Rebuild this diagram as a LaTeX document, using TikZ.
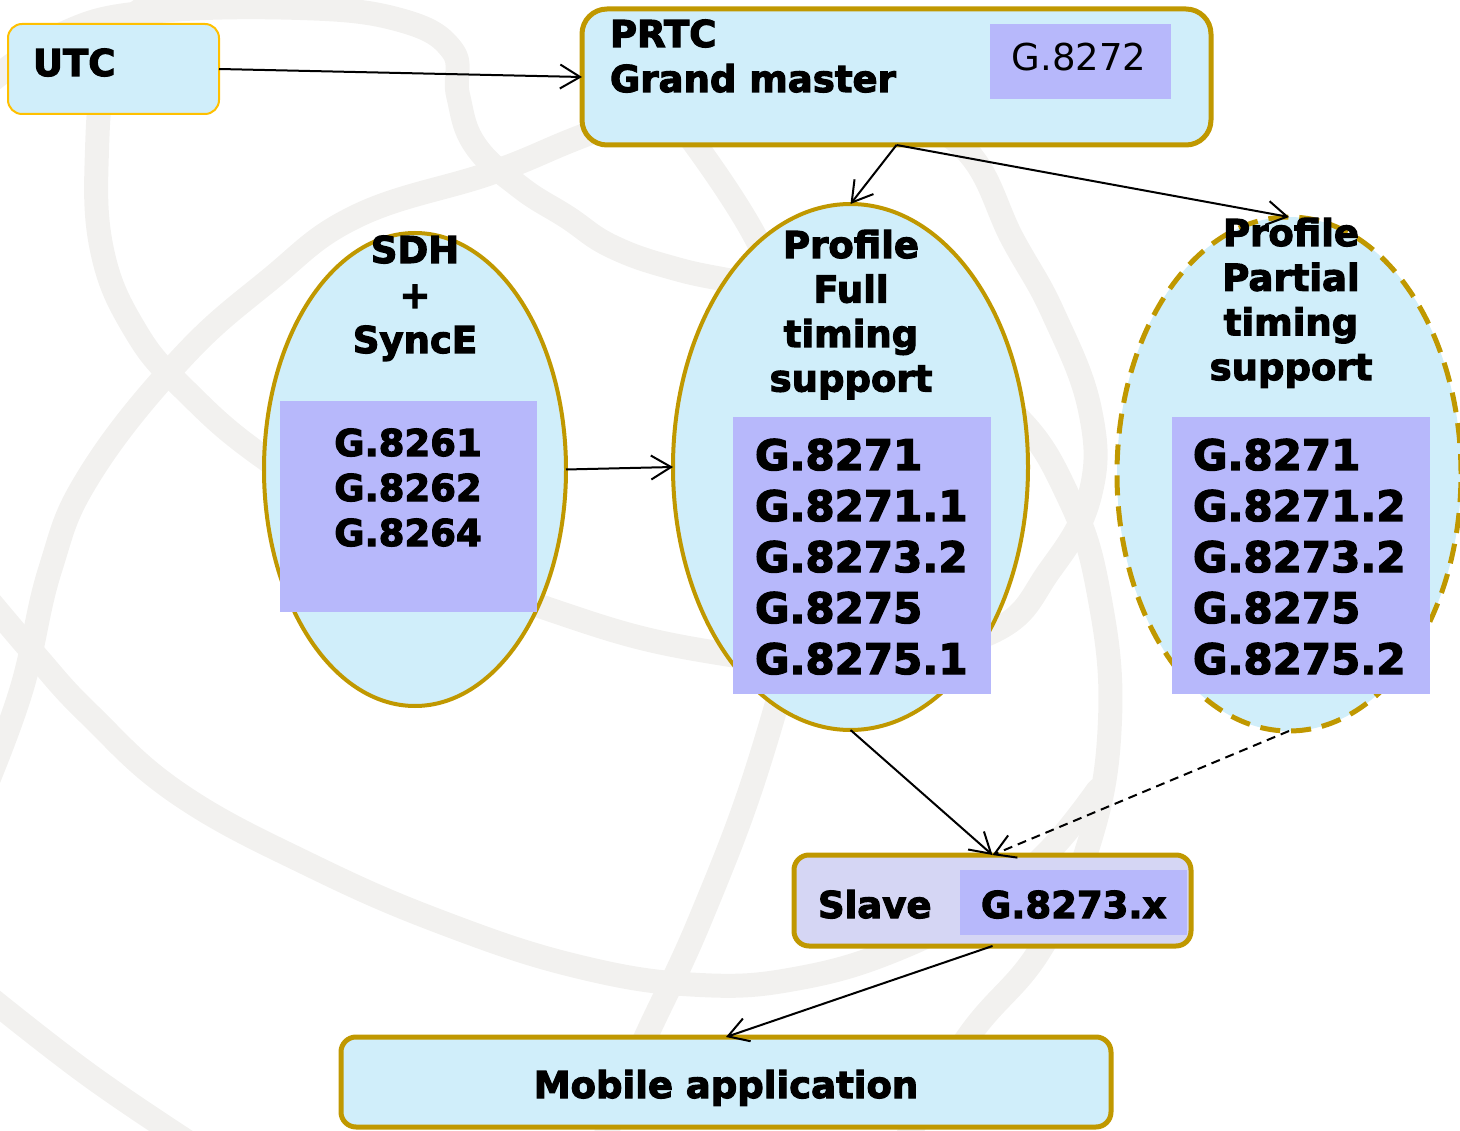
\documentclass[tikz,border=0pt]{standalone}
\usepackage{fontspec}
\setmainfont{DejaVu Sans}[BoldFeatures={FakeBold=3}]
\usetikzlibrary{arrows.meta,shapes.geometric}

\definecolor{boxfill}{HTML}{D0EEFA}
\definecolor{listfill}{HTML}{B7B8FB}
\definecolor{gold}{HTML}{C09800}
\definecolor{amber}{HTML}{FFC000}
\definecolor{slavefill}{HTML}{D5D6F4}
\definecolor{globe}{HTML}{F2F1EF}

\tikzset{
  box/.style={draw=gold, line width=5pt, fill=boxfill, rounded corners=15pt,
    inner sep=0pt, outer sep=0pt},
  oval/.style={ellipse, draw=gold, line width=4pt, fill=boxfill,
    inner sep=0pt, outer sep=0pt},
  listbox/.style={fill=listfill, inner sep=0pt, outer sep=0pt},
  txt/.style={inner sep=0pt, outer sep=0pt, anchor=base,
    font=\fontsize{37}{44}\selectfont\bfseries},
  bigtxt/.style={inner sep=0pt, outer sep=0pt, anchor=base west,
    font=\fontsize{42}{50}\selectfont\bfseries},
  link/.style={line width=2pt,
    -{Straight Barb[length=20pt,width=24pt,line width=2pt]}},
  band/.style={draw=globe, line width=24pt, line cap=round, line join=round},
}

\begin{document}
\begin{tikzpicture}[x=1pt, y=-1pt]
\useasboundingbox (0,0) rectangle (1460,1131);

% faint globe watermark
\draw[band] plot[smooth, tension=0.7] coordinates {
  (870,100) (963,147) (1013,240) (1053,313) (1090,410) (1090,495) (1050,570)
  (990,633) (850,662) (700,650) (560,613) (420,555) (270,462) (185,390)
  (135,330) (102,250) (97,150) (108,60) (140,10)};
\draw[band] plot[smooth, tension=0.7] coordinates {
  (-20,90) (60,35) (150,12) (300,8) (400,20) (452,50) (458,95) (475,145)
  (520,187) (567,217) (613,247) (680,270) (780,293) (900,340) (1010,410)
  (1070,500) (1100,600) (1110,720) (1090,840) (1040,950) (968,1037) (900,1150)};
\draw[band] plot[smooth, tension=0.7] coordinates {
  (-20,800) (21,691) (50,570) (89,476) (179,361) (268,281) (357,216)
  (491,173) (580,137) (680,100)};
\draw[band] plot[smooth, tension=0.7] coordinates {
  (-20,590) (35,655) (89,714) (179,794) (312,866) (446,924) (580,967)
  (700,985) (800,978) (900,948) (990,900) (1050,850) (1098,790)};
\draw[band] plot[smooth, tension=0.7] coordinates {
  (-20,990) (89,1075) (200,1150)};
\draw[band] plot[smooth, tension=0.7] coordinates {
  (692,140) (757,240) (800,350) (815,450) (800,600) (760,760) (700,920)
  (640,1050) (600,1150)};

% boxes
\node[box, draw=amber, line width=2pt, rounded corners=14pt,
  minimum width=211pt, minimum height=90pt] (utc) at (113.5,69) {};
\node[txt, anchor=base west] (utc-t) at (33,76) {UTC};

\node[box, rounded corners=25pt, minimum width=629pt, minimum height=136pt]
  (prtc) at (896.5,77) {};
\node[txt, anchor=base west] (prtc-t1) at (610,47) {PRTC};
\node[txt, anchor=base west] (prtc-t2) at (610,92) {Grand master};
\node[listbox, minimum width=181pt, minimum height=75pt] (prtc-g) at (1080.5,61.5) {};
\node[txt, font=\fontsize{37}{44}\selectfont] (prtc-gt) at (1079,71) {G.8272};

% SDH + SyncE
\node[oval, minimum width=302pt, minimum height=473pt] (sdh) at (415,469.5) {};
\foreach \w [count=\i from 0] in {SDH,+,SyncE}
  \node[txt] (sdh-t\i) at (415,263+45*\i) {\w};
\node[listbox, minimum width=257pt, minimum height=211pt] (sdh-g) at (408.5,506.5) {};
\foreach \w [count=\i from 0] in {G.8261,G.8262,G.8264}
  \node[txt] (sdh-gt\i) at (408,456+45*\i) {\w};

% full timing support profile
\node[oval, minimum width=355pt, minimum height=526pt] (full) at (850.5,467) {};
\foreach \w [count=\i from 0] in {Profile,Full,timing,support}
  \node[txt] (full-t\i) at (851,258+44.5*\i) {\w};
\node[listbox, minimum width=258pt, minimum height=277pt] (full-g) at (862,555.5) {};
\foreach \w [count=\i from 0] in {G.8271,G.8271.1,G.8273.2,G.8275,G.8275.1}
  \node[bigtxt] (full-gt\i) at (755,470+51*\i) {\w};

% partial timing support profile
\node[oval, line width=5pt, dash pattern=on 20pt off 11pt,
  minimum width=344pt, minimum height=514pt] (partial) at (1289,474) {};
\foreach \w [count=\i from 0] in {Profile,Partial,timing,support}
  \node[txt] (part-t\i) at (1291,246+44.7*\i) {\w};
\node[listbox, minimum width=258pt, minimum height=277pt] (part-g) at (1301,555.5) {};
\foreach \w [count=\i from 0] in {G.8271,G.8271.2,G.8273.2,G.8275,G.8275.2}
  \node[bigtxt] (part-gt\i) at (1193,470+51*\i) {\w};

% slave clock
\node[box, fill=slavefill, minimum width=397pt, minimum height=91pt]
  (slave) at (992.5,900.5) {};
\node[listbox, minimum width=227pt, minimum height=65pt] (slave-g) at (1073.5,902.5) {};
\node[txt, anchor=base west] (slave-t) at (818,918) {Slave};
\node[txt, anchor=base west] (slave-gt) at (981,918) {G.8273.x};

% application
\node[box, minimum width=770pt, minimum height=90pt] (mobile) at (726,1082) {};
\node[txt] (mobile-t) at (726,1098) {Mobile application};

% connectors
\draw[link] (utc.east) -- (prtc.west);
\draw[link] (prtc.south) -- (full.north);
\draw[link] (prtc.south) -- (partial.north);
\draw[link] (sdh.east) -- (full.west);
\draw[link] (full.south) -- (slave.north);
\draw[link, dash pattern=on 9pt off 6pt] (partial.south) -- (slave.north);
\draw[link] (slave.south) -- (mobile.north);
\end{tikzpicture}
\end{document}
